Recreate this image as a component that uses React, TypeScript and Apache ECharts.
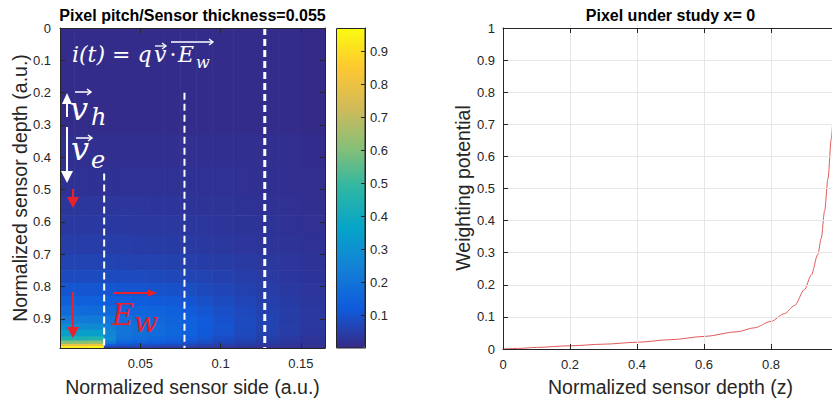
import React, { useEffect, useRef } from "react";
import * as echarts from "echarts";

// ---------- left panel: weighting field magnitude ----------
const xEdges = [0, 0.009, 0.018, 0.0275, 0.035, 0.045, 0.055, 0.065, 0.075, 0.085, 0.095, 0.108, 0.122, 0.136, 0.15, 0.165];
const yEdges = [0, 0.33, 0.43, 0.52, 0.58, 0.64, 0.7, 0.75, 0.79, 0.83, 0.86, 0.89, 0.915, 0.935, 0.955, 0.968, 0.978, 0.985, 0.99];
const fieldRows = [
  [0.004, 0.004, 0.004, 0.004, 0.004, 0.004, 0.004, 0.004, 0.004, 0.004, 0.004, 0.004, 0.004, 0.004, 0.003],
  [0.014, 0.014, 0.014, 0.014, 0.014, 0.014, 0.014, 0.014, 0.014, 0.014, 0.014, 0.014, 0.014, 0.012, 0.008],
  [0.019, 0.019, 0.019, 0.019, 0.019, 0.019, 0.019, 0.019, 0.019, 0.019, 0.018, 0.017, 0.015, 0.013, 0.011],
  [0.028, 0.028, 0.028, 0.028, 0.028, 0.028, 0.027, 0.027, 0.025, 0.023, 0.021, 0.02, 0.018, 0.016, 0.014],
  [0.036, 0.036, 0.036, 0.036, 0.036, 0.035, 0.034, 0.033, 0.031, 0.029, 0.027, 0.024, 0.022, 0.019, 0.016],
  [0.046, 0.046, 0.046, 0.046, 0.045, 0.044, 0.043, 0.041, 0.039, 0.036, 0.033, 0.03, 0.026, 0.022, 0.018],
  [0.06, 0.06, 0.06, 0.06, 0.059, 0.058, 0.056, 0.054, 0.051, 0.047, 0.043, 0.038, 0.033, 0.028, 0.022],
  [0.08, 0.08, 0.08, 0.079, 0.078, 0.077, 0.075, 0.071, 0.066, 0.06, 0.053, 0.046, 0.039, 0.032, 0.025],
  [0.105, 0.105, 0.105, 0.104, 0.103, 0.1, 0.097, 0.091, 0.084, 0.075, 0.066, 0.056, 0.046, 0.037, 0.028],
  [0.135, 0.135, 0.133, 0.13, 0.128, 0.125, 0.12, 0.113, 0.103, 0.092, 0.079, 0.065, 0.052, 0.041, 0.031],
  [0.17, 0.17, 0.167, 0.16, 0.155, 0.15, 0.143, 0.133, 0.12, 0.106, 0.09, 0.073, 0.058, 0.045, 0.034],
  [0.22, 0.22, 0.215, 0.195, 0.18, 0.17, 0.16, 0.148, 0.133, 0.116, 0.097, 0.078, 0.061, 0.047, 0.035],
  [0.28, 0.28, 0.275, 0.23, 0.195, 0.182, 0.17, 0.156, 0.139, 0.12, 0.1, 0.079, 0.061, 0.046, 0.034],
  [0.35, 0.35, 0.35, 0.26, 0.2, 0.185, 0.17, 0.154, 0.136, 0.117, 0.097, 0.076, 0.058, 0.043, 0.031],
  [0.44, 0.44, 0.45, 0.28, 0.19, 0.17, 0.156, 0.14, 0.122, 0.104, 0.085, 0.066, 0.05, 0.036, 0.027],
  [0.6, 0.6, 0.62, 0.22, 0.15, 0.138, 0.126, 0.113, 0.099, 0.084, 0.069, 0.054, 0.041, 0.03, 0.022],
  [0.8, 0.8, 0.82, 0.12, 0.1, 0.092, 0.085, 0.077, 0.068, 0.058, 0.048, 0.038, 0.029, 0.022, 0.016],
  [0.94, 0.94, 0.96, 0.05, 0.05, 0.048, 0.045, 0.041, 0.037, 0.032, 0.027, 0.021, 0.017, 0.013, 0.01],
];
const pixelEdges = [0.0275, 0.0775, 0.1275];
const dashTops = [0.45, 0.2, 0];
const fieldMin = 0;
const fieldMax = 0.97;

// ---------- right panel: weighting potential ----------
const depthZ = [0, 0.05, 0.1, 0.2, 0.3, 0.4, 0.5, 0.6, 0.7, 0.75, 0.8, 0.84, 0.87, 0.9, 0.92, 0.94, 0.95, 0.96, 0.97, 0.98, 0.99, 1.0];
const weightPot = [0, 0.002, 0.005, 0.01, 0.015, 0.021, 0.029, 0.039, 0.054, 0.066, 0.086, 0.11, 0.135, 0.185, 0.23, 0.295, 0.345, 0.43, 0.53, 0.655, 0.8, 1.0];

const parula = ["#352a87", "#0f5cdd", "#1481d6", "#06a4ca", "#2eb7a4", "#87bf77", "#d1bb59", "#fec832", "#f9fb0e"];

const INK = "#262626";
const SANS = "'Liberation Sans', Arial, sans-serif";
const SERIF = "'DejaVu Serif', serif";
const RED = "#e8212b";

function txt(text: string, x: number, y: number, opts: any = {}) {
  return {
    type: "text",
    x,
    y,
    rotation: opts.rotation || 0,
    z: 100,
    silent: true,
    style: {
      text,
      fill: opts.fill || "#000",
      fontSize: opts.fontSize || 13,
      fontFamily: opts.fontFamily || SANS,
      fontWeight: opts.fontWeight || "normal",
      fontStyle: opts.fontStyle || "normal",
      align: opts.align || "left",
      verticalAlign: "middle",
    },
  };
}

function arrowV(x: number, y0: number, tip: number, color: string, hw: number, hh: number, lw: number) {
  const dir = tip > y0 ? 1 : -1;
  const base = tip - dir * hh;
  return [
    { type: "line", z: 100, silent: true, shape: { x1: x, y1: y0, x2: x, y2: base }, style: { stroke: color, lineWidth: lw } },
    { type: "polygon", z: 100, silent: true, shape: { points: [[x - hw, base], [x + hw, base], [x, tip]] }, style: { fill: color } },
  ];
}

function arrowH(y: number, x0: number, tip: number, color: string, hh: number, hw: number, lw: number) {
  const base = tip - hw;
  return [
    { type: "line", z: 100, silent: true, shape: { x1: x0, y1: y, x2: base, y2: y }, style: { stroke: color, lineWidth: lw } },
    { type: "polygon", z: 100, silent: true, shape: { points: [[base, y - hh], [base, y + hh], [tip, y]] }, style: { fill: color } },
  ];
}

function vecArrow(x0: number, x1: number, y: number, color: string, lw: number) {
  return [
    { type: "line", z: 100, silent: true, shape: { x1: x0, y1: y, x2: x1, y2: y }, style: { stroke: color, lineWidth: lw } },
    { type: "polyline", z: 100, silent: true, shape: { points: [[x1 - 4, y - 3], [x1, y], [x1 - 4, y + 3]] }, style: { stroke: color, lineWidth: lw, fill: "none" } },
  ];
}

export default function App() {
  const ref = useRef<HTMLDivElement>(null);
  useEffect(() => {
    if (!ref.current) return;
    const chart = echarts.init(ref.current, null, { renderer: "svg" });

    const cells: number[][] = [];
    fieldRows.forEach((row, r) => {
      row.forEach((v, c) => {
        cells.push([xEdges[c], xEdges[c + 1], yEdges[r], yEdges[r + 1], v]);
      });
    });

    const tickIn = { show: true, inside: true, length: 5, lineStyle: { color: INK, width: 1 } };
    const lineInk = { show: true, onZero: false, lineStyle: { color: INK, width: 1 } };
    const lbl = { color: INK, fontSize: 13, fontFamily: SANS };

    const option: any = {
      animation: false,
      backgroundColor: "#ffffff",
      grid: [
        { left: 60, top: 28, width: 265, height: 320 },
        { left: 336, top: 28, width: 29, height: 320 },
        { left: 503, top: 28, width: 335, height: 321 },
      ],
      xAxis: [
        { type: "value", gridIndex: 0, position: "bottom", min: 0, max: 0.165, interval: 0.05, z: 10,
          axisLine: lineInk, axisTick: tickIn, splitLine: { show: false },
          axisLabel: { ...lbl, margin: 9, showMinLabel: false, showMaxLabel: false } },
        { type: "value", gridIndex: 0, position: "top", min: 0, max: 0.165, interval: 0.05, z: 10,
          axisLine: lineInk, axisTick: tickIn, splitLine: { show: false }, axisLabel: { show: false } },
        { type: "value", gridIndex: 1, min: 0, max: 1, show: false },
        { type: "value", gridIndex: 2, position: "bottom", min: 0, max: 1, interval: 0.2, z: 10,
          axisLine: lineInk, axisTick: tickIn, splitLine: { show: true, lineStyle: { color: "#e6e6e6", width: 1 } },
          axisLabel: { ...lbl, margin: 9, showMaxLabel: false } },
        { type: "value", gridIndex: 2, position: "top", min: 0, max: 1, interval: 0.2, z: 10,
          axisLine: lineInk, axisTick: tickIn, splitLine: { show: false }, axisLabel: { show: false } },
      ],
      yAxis: [
        { type: "value", gridIndex: 0, position: "left", inverse: true, min: 0, max: 0.99, interval: 0.1, z: 10,
          axisLine: lineInk, axisTick: tickIn, splitLine: { show: false },
          axisLabel: { ...lbl, margin: 9, showMaxLabel: false } },
        { type: "value", gridIndex: 0, position: "right", inverse: true, min: 0, max: 0.99, interval: 0.1, z: 10,
          axisLine: lineInk, axisTick: tickIn, splitLine: { show: false }, axisLabel: { show: false } },
        { type: "value", gridIndex: 1, position: "right", min: fieldMin, max: fieldMax, interval: 0.1, z: 10,
          axisLine: lineInk, axisTick: { ...tickIn, length: 4 }, splitLine: { show: false },
          axisLabel: { ...lbl, margin: 5, showMinLabel: false, showMaxLabel: false } },
        { type: "value", gridIndex: 2, position: "left", min: 0, max: 1, interval: 0.1, z: 10,
          axisLine: lineInk, axisTick: tickIn, splitLine: { show: true, lineStyle: { color: "#e6e6e6", width: 1 } },
          axisLabel: { ...lbl, margin: 8 } },
      ],
      visualMap: {
        type: "continuous",
        min: fieldMin,
        max: fieldMax,
        dimension: 4,
        seriesIndex: 0,
        calculable: false,
        hoverLink: false,
        realtime: false,
        left: 336,
        top: 28,
        itemWidth: 29,
        itemHeight: 320,
        padding: 0,
        text: null,
        showLabel: false,
        inRange: { color: parula },
      },
      series: [
        {
          type: "custom",
          xAxisIndex: 0,
          yAxisIndex: 0,
          clip: true,
          silent: true,
          encode: { x: [0, 1], y: [2, 3] },
          data: cells,
          renderItem: (params: any, api: any) => {
            const p0 = api.coord([api.value(0), api.value(2)]);
            const p1 = api.coord([api.value(1), api.value(3)]);
            const x = Math.min(p0[0], p1[0]);
            const y = Math.min(p0[1], p1[1]);
            const w = Math.abs(p1[0] - p0[0]);
            const h = Math.abs(p1[1] - p0[1]);
            const color = api.visual("color");
            return {
              type: "rect",
              shape: { x: x - 0.3, y: y - 0.3, width: w + 0.6, height: h + 0.6 },
              style: { fill: color, stroke: null },
            };
          },
        },
        ...pixelEdges.map((e, i) => ({
          type: "line",
          xAxisIndex: 0,
          yAxisIndex: 0,
          silent: true,
          symbol: "none",
          z: 5,
          data: [[e, dashTops[i]], [e, 0.99]],
          lineStyle: { color: "#ffffff", width: i === 2 ? 3 : 2, type: [7, 4] },
        })),
        {
          type: "line",
          xAxisIndex: 3,
          yAxisIndex: 3,
          silent: true,
          symbol: "none",
          smooth: 0.3,
          smoothMonotone: "x",
          data: depthZ.map((z, i) => [z, weightPot[i]]),
          lineStyle: { color: "#e05a5a", width: 1 },
          z: 5,
        },
      ],
      graphic: [
        // titles
        txt("Pixel pitch/Sensor thickness=0.055", 192.5, 15.5, { fontSize: 16, fontWeight: "bold", align: "center", fill: "#000" }),
        txt("Pixel under study x= 0", 670.5, 15.5, { fontSize: 16, fontWeight: "bold", align: "center", fill: "#000" }),
        // axis names
        txt("Normalized sensor side (a.u.)", 192.5, 387, { fontSize: 19.5, align: "center", fill: INK }),
        txt("Normalized sensor depth (a.u.)", 20, 188, { fontSize: 19.5, align: "center", fill: INK, rotation: Math.PI / 2 }),
        txt("Normalized sensor depth (z)", 670.5, 387, { fontSize: 19.5, align: "center", fill: INK }),
        txt("Weighting potential", 463, 188, { fontSize: 19.5, align: "center", fill: INK, rotation: Math.PI / 2 }),
        // colorbar frame
        { type: "rect", z: 100, silent: true, shape: { x: 336.5, y: 28.5, width: 28.5, height: 319.5 }, style: { fill: "none", stroke: INK, lineWidth: 1 } },
        // equation
        txt("i(t) = q", 72, 54.3, { fontSize: 22, fontFamily: SERIF, fontStyle: "italic", fill: "#fff" }),
        txt("v", 154, 54.3, { fontSize: 22, fontFamily: SERIF, fontStyle: "italic", fill: "#fff" }),
        txt("·", 169.5, 54.3, { fontSize: 22, fontFamily: SERIF, fill: "#fff" }),
        txt("E", 178, 54.3, { fontSize: 22, fontFamily: SERIF, fontStyle: "italic", fill: "#fff" }),
        txt("w", 196, 62, { fontSize: 16, fontFamily: SERIF, fontStyle: "italic", fill: "#fff" }),
        ...vecArrow(155, 166, 46, "#fff", 1.3),
        ...vecArrow(171, 213, 42, "#fff", 1.3),
        // v_h
        txt("v", 70, 109, { fontSize: 32, fontFamily: SERIF, fontStyle: "italic", fill: "#fff" }),
        txt("h", 91, 117, { fontSize: 24, fontFamily: SERIF, fontStyle: "italic", fill: "#fff" }),
        ...vecArrow(75, 91, 92, "#fff", 1.5),
        // v_e
        txt("v", 71, 149, { fontSize: 32, fontFamily: SERIF, fontStyle: "italic", fill: "#fff" }),
        txt("e", 91, 160, { fontSize: 24, fontFamily: SERIF, fontStyle: "italic", fill: "#fff" }),
        ...vecArrow(76, 92, 138, "#fff", 1.5),
        // white arrows
        ...arrowV(67, 117, 93, "#fff", 5, 11, 2),
        ...arrowV(67, 127, 183, "#fff", 6, 12, 2),
        // red arrows
        ...arrowV(73, 189, 208, RED, 6, 11, 2),
        ...arrowV(73, 292, 338, RED, 6, 11, 2),
        ...arrowH(293, 113, 157, RED, 3.5, 9, 2),
        txt("E", 112, 314.5, { fontSize: 30, fontFamily: SERIF, fontStyle: "italic", fill: RED }),
        txt("w", 134, 322, { fontSize: 28, fontFamily: SERIF, fontStyle: "italic", fill: RED }),
      ],
    };

    chart.setOption(option);
    return () => chart.dispose();
  }, []);

  return (
    <div style={{ position: "fixed", left: 0, top: 0, width: 832, height: 401, overflow: "hidden", background: "#fff" }}>
      <div ref={ref} style={{ width: 850, height: 401 }} />
    </div>
  );
}
